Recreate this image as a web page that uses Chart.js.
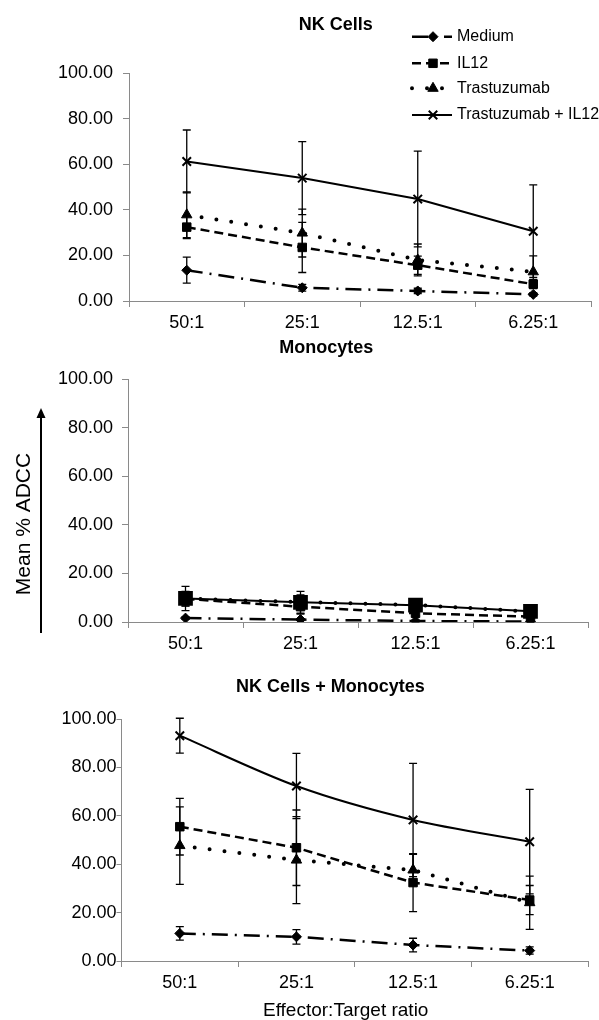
<!DOCTYPE html>
<html>
<head>
<meta charset="utf-8">
<script src="https://cdn.jsdelivr.net/npm/chart.js@4.4.1/dist/chart.umd.min.js"></script>
<style>
  body { margin: 0; background: #fff; width: 599px; height: 1020px; overflow: hidden; position: relative; }
  .panel { position: absolute; left: 0; }
</style>
</head>
<body>
<div class="panel" style="top:0"><canvas id="nk" width="599" height="335"></canvas></div>
<div class="panel" style="top:335px"><canvas id="mono" width="599" height="335"></canvas></div>
<div class="panel" style="top:670px"><canvas id="both" width="599" height="350"></canvas></div>
<script>
const ratios = ["50:1", "25:1", "12.5:1", "6.25:1"];
const seriesNames = ["Medium", "IL12", "Trastuzumab", "Trastuzumab + IL12"];
const yTicks = [0, 20, 40, 60, 80, 100];

// NK cells
const nkMedium = [13.5, 5.8, 4.4, 2.9];
const nkMediumErr = [5.7, 1.5, 1.2, 0.8];
const nkIL12 = [32.4, 23.5, 15.7, 7.4];
const nkIL12Err = [5, 11, 4, 2];
const nkTras = [37.8, 29.8, 18.0, 12.8];
const nkTrasErr = [10, 10.5, 7, 7];
const nkTrasIL12 = [61.2, 53.9, 44.7, 30.6];
const nkTrasIL12Err = [13.8, 16, 21, 20.3];

// Monocytes
const monoMedium = [1.6, 1.0, 0.4, 0.2];
const monoMediumErr = [0.5, 0.3, 0.3, 0.2];
const monoIL12 = [9.5, 6.3, 3.6, 2.2];
const monoIL12Err = [3, 3, 1, 0.5];
const monoTras = [9.6, 8.2, 7.0, 4.3];
const monoTrasErr = [3, 3, 2, 1];
const monoTrasIL12 = [9.7, 8.1, 6.9, 4.4];
const monoTrasIL12Err = [5, 4.5, 2, 1];

// NK cells + monocytes
const bothMedium = [11.4, 10.0, 6.6, 4.3];
const bothMediumErr = [2.8, 3, 2.8, 1.5];
const bothIL12 = [55.5, 46.8, 32.4, 25.2];
const bothIL12Err = [11.7, 15.6, 12, 6];
const bothTras = [47.7, 41.7, 37.6, 24.1];
const bothTrasErr = [16, 18, 6.5, 11];
const bothTrasIL12 = [93.1, 72.3, 58.3, 49.3];
const bothTrasIL12Err = [7.2, 13.5, 23.4, 21.6];

const FONT = "'Liberation Sans', Arial, sans-serif";
const axisGray = "#8a8a8a";

const lineStyles = [
  { dash: [16, 7, 2, 7], width: 2.5, cap: "butt", point: "rectRot", r: 5 },
  { dash: [9, 5], width: 2.5, cap: "butt", point: "rect", r: 6 },
  { dash: [0, 15], width: 4, cap: "round", point: "triangle", r: 6 },
  { dash: [], width: 2, cap: "butt", point: "crossRot", r: 6 }
];

function makeDatasets(values, errors, extra) {
  return values.map((vals, i) => {
    const s = lineStyles[i];
    const ex = (extra && extra[i]) || {};
    return {
      label: seriesNames[i],
      data: vals,
      errors: errors[i],
      borderColor: "#000",
      backgroundColor: "#000",
      borderWidth: s.width,
      borderDash: s.dash,
      borderCapStyle: s.cap,
      tension: ex.tension || 0,
      pointStyle: ex.point || s.point,
      pointRadius: ex.r || s.r,
      pointBorderWidth: s.point === "crossRot" ? 2 : 1,
      pointBackgroundColor: "#000",
      pointBorderColor: "#000"
    };
  });
}

const errorBars = {
  id: "errorBars",
  beforeDatasetsDraw(chart) {
    const ctx = chart.ctx;
    const y = chart.scales.y;
    ctx.save();
    ctx.strokeStyle = "#000";
    ctx.lineWidth = 1.3;
    ctx.setLineDash([]);
    chart.data.datasets.forEach((ds, i) => {
      const meta = chart.getDatasetMeta(i);
      meta.data.forEach((pt, j) => {
        const v = ds.data[j], e = ds.errors[j];
        const top = y.getPixelForValue(v + e);
        const bot = y.getPixelForValue(v - e);
        ctx.beginPath();
        ctx.moveTo(pt.x, top); ctx.lineTo(pt.x, bot);
        ctx.moveTo(pt.x - 4, top); ctx.lineTo(pt.x + 4, top);
        ctx.moveTo(pt.x - 4, bot); ctx.lineTo(pt.x + 4, bot);
        ctx.stroke();
      });
    });
    ctx.restore();
  }
};

const extras = {
  id: "extras",
  afterDraw(chart, args, opts) {
    const ctx = chart.ctx;
    ctx.save();
    ctx.fillStyle = "#000";
    ctx.textAlign = "center";
    ctx.textBaseline = "middle";
    (opts.texts || []).forEach(t => {
      ctx.save();
      ctx.font = t.font;
      ctx.translate(t.x, t.y);
      if (t.rotate) ctx.rotate(t.rotate);
      ctx.fillText(t.text, 0, 0);
      ctx.restore();
    });
    if (opts.legend) {
      const rows = [36.7, 63.3, 88.3, 115];
      ctx.font = "16px " + FONT;
      ctx.textAlign = "left";
      chart.data.datasets.forEach((ds, i) => {
        const s = lineStyles[i];
        const yy = rows[i];
        ctx.strokeStyle = "#000";
        ctx.lineWidth = s.width;
        ctx.lineCap = s.cap;
        ctx.setLineDash(s.dash);
        ctx.beginPath();
        ctx.moveTo(412, yy); ctx.lineTo(452, yy);
        ctx.stroke();
        ctx.setLineDash([]);
        ctx.lineCap = "butt";
        ctx.lineWidth = s.point === "crossRot" ? 2 : 1;
        Chart.helpers.drawPoint(ctx, { pointStyle: s.point, radius: s.r, borderWidth: ctx.lineWidth, rotation: 0 }, 433, yy);
        ctx.fillText(ds.label, 457, yy);
      });
    }
    if (opts.arrow) {
      const a = opts.arrow;
      ctx.strokeStyle = "#000";
      ctx.lineWidth = 2;
      ctx.beginPath();
      ctx.moveTo(a.x, a.bottom); ctx.lineTo(a.x, a.top + 8);
      ctx.stroke();
      ctx.beginPath();
      ctx.moveTo(a.x, a.top); ctx.lineTo(a.x - 4.5, a.top + 10); ctx.lineTo(a.x + 4.5, a.top + 10);
      ctx.closePath();
      ctx.fill();
    }
    ctx.restore();
  }
};

function makeChart(id, datasets, p) {
  return new Chart(document.getElementById(id), {
    type: "line",
    data: { labels: ratios, datasets },
    options: {
      responsive: false,
      animation: false,
      layout: { padding: { top: p.top, right: p.right, left: 0, bottom: 0 } },
      plugins: {
        legend: { display: false },
        title: { display: false },
        tooltip: { enabled: false },
        extras: p.extras
      },
      scales: {
        x: {
          offset: true,
          grid: { offset: true, drawOnChartArea: false, tickLength: 6, color: axisGray },
          border: { color: axisGray, width: 1 },
          ticks: { font: { family: FONT, size: 18 }, color: "#000", padding: 5 },
          afterFit: s => { s.height = p.xh; }
        },
        y: {
          min: 0, max: 100,
          afterBuildTicks: s => { s.ticks = yTicks.map(v => ({ value: v })); },
          grid: { drawOnChartArea: false, tickLength: p.tl, color: axisGray },
          border: { color: axisGray, width: 1 },
          ticks: { font: { family: FONT, size: 18 }, color: "#000", padding: p.ypad, callback: v => v.toFixed(2) },
          afterFit: s => { s.width = p.left; }
        }
      }
    },
    plugins: [errorBars, extras]
  });
}

makeChart("nk",
  makeDatasets([nkMedium, nkIL12, nkTras, nkTrasIL12], [nkMediumErr, nkIL12Err, nkTrasErr, nkTrasIL12Err]),
  { top: 73, right: 8, left: 129, xh: 34, tl: 6, ypad: 10,
    extras: { legend: true, texts: [{ text: "NK Cells", x: 335.7, y: 25, font: "bold 18px " + FONT }] } });

makeChart("mono",
  makeDatasets([monoMedium, monoIL12, monoTras, monoTrasIL12], [monoMediumErr, monoIL12Err, monoTrasErr, monoTrasIL12Err],
    [null, null, null, { point: "rect", r: 9 }]),
  { top: 44, right: 7, left: 128, xh: 48, tl: 6, ypad: 9,
    extras: {
      texts: [
        { text: "Monocytes", x: 326.2, y: 13, font: "bold 18px " + FONT },
        { text: "Mean % ADCC", x: 24, y: 189, font: "21px " + FONT, rotate: -Math.PI / 2 }
      ],
      arrow: { x: 41, top: 73, bottom: 298 }
    } });

makeChart("both",
  makeDatasets([bothMedium, bothIL12, bothTras, bothTrasIL12], [bothMediumErr, bothIL12Err, bothTrasErr, bothTrasIL12Err],
    [null, null, null, { tension: 0.3 }]),
  { top: 49, right: 11, left: 121.5, xh: 59, tl: 5, ypad: 0,
    extras: {
      texts: [
        { text: "NK Cells + Monocytes", x: 330.4, y: 17, font: "bold 18px " + FONT },
        { text: "Effector:Target ratio", x: 345.7, y: 341, font: "19px " + FONT }
      ]
    } });
</script>
</body>
</html>
